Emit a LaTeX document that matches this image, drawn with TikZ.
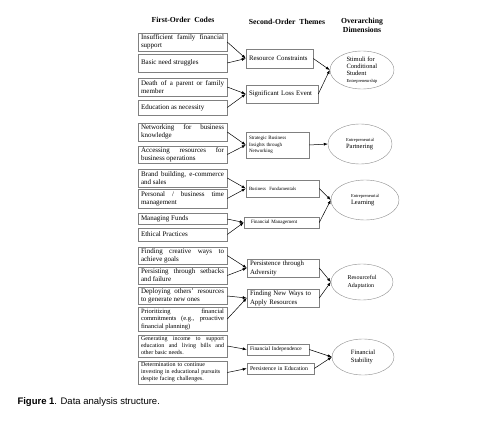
\documentclass[tikz,border=0pt]{standalone}
\usepackage{fontspec}
\setmainfont{Liberation Serif}
\newfontfamily\captionfont{Liberation Sans}
\usepackage{tikz}
\usetikzlibrary{shapes.geometric}
\usetikzlibrary{arrows.meta}

\hyphenpenalty=10000
\exhyphenpenalty=10000
\tolerance=10000
\newcommand\minitext{\fontsize{4.5}{5.5}\selectfont}

\begin{document}
\begin{tikzpicture}[
        x=1pt, y=-1pt,
        >={Latex[length=4pt,width=3pt]},
        heading/.style={align=center, font=\bfseries\fontsize{7.7}{9}\selectfont},
        code/.style={rectangle, draw=black!50, line width=0.5pt, text width=83pt, inner xsep=3pt, inner ysep=1.5pt, minimum height=18pt, align=justify, font=\fontsize{7}{8}\selectfont},
        theme/.style={rectangle, draw=black!50, line width=0.5pt, inner xsep=3pt, inner ysep=1.5pt, align=left, font=\fontsize{6.8}{9}\selectfont},
        dimension/.style={ellipse, draw=black!45, thin, inner sep=0pt, align=left, font=\fontsize{6.5}{7}\selectfont},
        link/.style={->, black, line width=0.5pt}
      ]
        \useasboundingbox (0,0) rectangle (491,423);

        % column headings
        \node[heading] (codes)  at (183,20)   {First-Order\ \ Codes};
        \node[heading] (themes) at (287,22)   {Second-Order\ \ Themes};
        \node[heading] (dims)   at (362,25.5) {Overarching\\Dimensions};

        % first-order codes
        \node[code]                       (insufficient) at (182.5,42)    {Insufficient family financial support};
        \node[code]                       (basicneed)    at (182.5,63)    {Basic need struggles};
        \node[code]                       (death)        at (182.5,87)    {Death of a parent or family member};
        \node[code, minimum height=15pt]  (necessity)    at (182.5,107.5) {Education as necessity};
        \node[code]                       (networking)   at (182.5,132)   {Networking for business knowledge};
        \node[code, minimum height=17pt]  (accessing)    at (182.5,154.5) {Accessing resources for business operations};
        \node[code]                       (brand)        at (182.5,178)   {Brand building, e-commerce and sales};
        \node[code, minimum height=19pt]  (timemgmt)     at (182.5,198.5) {Personal / business time management};
        \node[code, minimum height=11pt]  (funds)        at (182.5,219)   {Managing Funds};
        \node[code, minimum height=13pt]  (ethics)       at (182.5,234.5) {Ethical Practices};
        \node[code, minimum height=17pt]  (creative)     at (182.5,255.5) {Finding creative ways to achieve goals};
        \node[code, minimum height=17pt]  (setbacks)     at (182.5,275.5) {Persisting through setbacks and failure};
        \node[code, minimum height=16pt]  (deploying)    at (182.5,296)   {Deploying others' resources to generate new ones};
        \node[code, minimum height=24pt, font=\fontsize{6.5}{7.5}\selectfont] (prioritizing) at (182.5,319) {Prioritizing financial commitments (e.g., proactive financial planning)};
        \node[code, minimum height=22pt, font=\fontsize{6}{7}\selectfont]     (income)       at (182.5,346) {Generating income to support education and living bills and\linebreak other basic needs.};
        \node[code, minimum height=23pt, align=left, font=\fontsize{6}{7}\selectfont] (determination) at (182.5,372.5) {Determination to continue\\investing in educational pursuits\\despite facing challenges.};

        % second-order themes
        \node[theme, text width=61pt, minimum height=19pt] (rescon) at (279.5,58.5) {Resource Constraints};
        \node[theme, text width=66pt, minimum height=18pt] (loss)   at (282,94)     {Significant Loss Event};
        \node[theme, text width=57pt, minimum height=26pt, font=\fontsize{5}{6.5}\selectfont] (insights)     at (277.5,145)   {Strategic Business\\Insights through\\Networking};
        \node[theme, text width=67pt, minimum height=17pt, font=\fontsize{4.8}{6}\selectfont] (fundamentals) at (282.5,188.5) {Business\ \ Fundamentals};
        \node[theme, text width=69pt, minimum height=11pt, font=\fontsize{5}{6}\selectfont]   (finmgmt)      at (281.5,222.5) {\hspace{4pt}Financial\ Management};
        \node[theme, text width=66pt, minimum height=18pt] (adversity) at (283,268) {Persistence through\\Adversity};
        \node[theme, text width=66pt, minimum height=18pt] (newways)   at (283,298) {Finding New Ways to\\Apply Resources};
        \node[theme, text width=56pt, minimum height=11pt, font=\fontsize{5.4}{6}\selectfont] (independence) at (278,349.5)   {Financial Independence};
        \node[theme, text width=61pt, minimum height=11pt, font=\fontsize{5.8}{7}\selectfont] (persistence)  at (280.5,368.5) {Persistence in Education};

        % overarching dimensions
        \node[dimension, minimum width=64pt, minimum height=38pt] (stimuli)    at (362,70)  {Stimuli for\\Conditional\\Student\\{\minitext Entrepreneurship}};
        \node[dimension, minimum width=64pt, minimum height=40pt] (partnering) at (360,144) {{\minitext Entrepreneurial}\\Partnering};
        \node[dimension, minimum width=68pt, minimum height=40pt] (learning)   at (365,200) {{\minitext Entrepreneurial}\\Learning};
        \node[dimension, minimum width=62pt, minimum height=36pt, font=\fontsize{6}{7.5}\selectfont] (adaptation) at (362,282) {Resourceful\\Adaptation};
        \node[dimension, minimum width=62pt, minimum height=36pt, font=\fontsize{6.5}{8}\selectfont] (stability)  at (363,357) {Financial\\Stability};

        % codes to themes
        \draw[link] (insufficient.east) -- (rescon.west);
        \draw[link] (basicneed.east)    -- (rescon.west);
        \draw[link] (death.east)        -- (loss.west);
        \draw[link] (necessity.east)    -- (loss.west);
        \draw[link] (networking.east)   -- (insights.west);
        \draw[link] (accessing.east)    -- (insights.west);
        \draw[link] (brand.east)        -- (fundamentals.west);
        \draw[link] (timemgmt.east)     -- (fundamentals.west);
        \draw[link] (funds.east)        -- (finmgmt.west);
        \draw[link] (ethics.east)       -- (finmgmt.west);
        \draw[link] (creative.east)     -- (adversity.west);
        \draw[link] (setbacks.east)     -- (adversity.west);
        \draw[link] (deploying.east)    -- (newways.west);
        \draw[link] (prioritizing.east) -- (newways.west);
        \draw[link] (income.east)       -- (independence.west);
        \draw[link] (determination.east) -- (persistence.west);

        % themes to dimensions
        \draw[link] (rescon.east)       -- (stimuli.west);
        \draw[link] (loss.east)         -- (stimuli.west);
        \draw[link] (insights.east)     -- (partnering.west);
        \draw[link] (fundamentals.east) -- (learning.west);
        \draw[link] (finmgmt.east)      -- (learning.west);
        \draw[link] (adversity.east)    -- (adaptation.west);
        \draw[link] (newways.east)      -- (adaptation.west);
        \draw[link] (independence.east) -- (stability.west);
        \draw[link] (persistence.east)  -- (stability.west);

        \node[anchor=west, font=\captionfont\fontsize{9.5}{11}\selectfont] (caption) at (14,402) {\textbf{Figure 1}. Data analysis structure.};
      \end{tikzpicture}
\end{document}
